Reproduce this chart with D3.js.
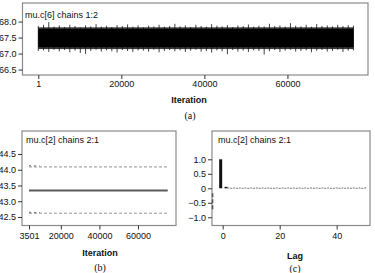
<!DOCTYPE html>
<html>
<head>
<meta charset="utf-8">
<script src="https://d3js.org/d3.v7.min.js"></script>
<style>
  body { margin: 0; background: #fff; }
  svg { display: block; }
  text { font-family: "Liberation Sans", Arial, sans-serif; fill: #111; }
  .tick text { font-size: 9px; }
  .tick line { stroke: #333; }
  .ttl { font-size: 9px; }
  .xl { font-size: 9px; font-weight: bold; }
  .cap { font-family: "Liberation Serif", "Times New Roman", serif; font-size: 10px; }
</style>
</head>
<body>
<svg width="375" height="273"></svg>
<script>
// ---- (a) trace of mu.c[6], both chains ----
var traceStep = 1265;          // iterations between envelope readings
var traceHi = [67.86, 67.90, 67.98, 67.84, 67.88, 67.83, 67.90, 67.86, 67.82, 67.88,
               67.85, 67.92, 67.84, 67.87, 67.83, 67.89, 67.86, 67.91, 67.84, 67.88,
               67.82, 67.87, 67.85, 67.90, 67.84, 67.86, 67.93, 67.85, 67.88, 67.83,
               67.90, 67.86, 67.84, 67.92, 67.87, 67.85, 67.89, 67.83, 67.88, 67.86,
               67.91, 67.84, 67.87, 67.85, 67.93, 67.86, 67.88, 67.84, 67.95, 67.87,
               67.85, 67.90, 67.84, 67.92, 67.86, 67.88, 67.85, 67.90, 67.86, 67.89, 67.87];
var traceLo = [67.08, 67.10, 67.05, 67.12, 67.07, 67.11, 67.04, 67.09, 67.02, 66.99,
               67.08, 67.12, 67.06, 67.10, 67.07, 67.03, 67.11, 67.08, 67.05, 67.10,
               67.09, 67.06, 67.12, 67.04, 67.08, 67.11, 67.07, 67.10, 67.05, 67.09,
               67.12, 67.06, 67.08, 67.03, 67.10, 67.07, 66.98, 67.11, 67.06, 67.09,
               67.05, 67.10, 67.08, 66.97, 67.07, 67.11, 67.05, 67.09, 67.12, 67.06,
               67.08, 67.10, 67.04, 67.09, 67.11, 67.06, 67.08, 67.12, 67.05, 67.09, 67.10];
var coreHi = 67.77, coreLo = 67.20;   // solid part of the band
var fuzzHi = 67.82, fuzzLo = 67.14;   // dense fringe around it
var aYTicks = [66.5, 67.0, 67.5, 68.0];
var aXTicks = [1, 20000, 40000, 60000];

// ---- (b) quantile history of mu.c[2] ----
var bIter = [3501, 75400];
var bMedian = [43.34, 43.34];
var bUpper = [44.09, 44.09];
var bLower = [42.62, 42.62];
var bUpper2 = [44.13, 44.12];   // second chain, only visible near the start
var bLower2 = [42.65, 42.64];
var bIter2 = [3501, 9000];
var bYTicks = [42.5, 43.0, 43.5, 44.0, 44.5];
var bXTicks = [3501, 20000, 40000, 60000];

// ---- (c) autocorrelation of mu.c[2] ----
var acfLag = d3.range(0, 51);
var acfVal = [1.0, 0.05, 0.01, 0.0, 0.01, -0.01, 0.01, 0.0, 0.01, 0.0,
              0.01, -0.01, 0.01, 0.0, 0.01, 0.0, 0.01, 0.0, -0.01, 0.01,
              0.0, 0.01, 0.0, 0.01, -0.01, 0.01, 0.0, 0.01, 0.0, 0.01,
              0.0, 0.01, -0.01, 0.01, 0.0, 0.01, 0.0, 0.01, 0.0, -0.01,
              0.01, 0.0, 0.01, 0.0, 0.01, -0.01, 0.01, 0.0, 0.01, 0.0, 0.01];
var cYTicks = [-1.0, -0.5, 0, 0.5, 1.0];
var cXTicks = [0, 20, 40];
var cLeftDash = [-0.17, -0.78];

var svg = d3.select("svg");

function frame(x0, x1, y0, y1) {
  svg.append("rect")
    .attr("x", x0).attr("y", y0)
    .attr("width", x1 - x0).attr("height", y1 - y0)
    .attr("fill", "none").attr("stroke", "#8a8a8a").attr("stroke-width", 1.2);
}

// ===== panel (a) =====
var xA = d3.scaleLinear().domain([-3800, 79400]).range([22.5, 368]);
var yA = d3.scaleLinear().domain([66.33, 68.58]).range([75, 3]);
var iterA = traceHi.map(function(d, i) { return 1 + i * traceStep; });
var aStart = xA(iterA[0]), aEnd = xA(iterA[iterA.length - 1]);

svg.append("rect")
  .attr("x", aStart).attr("width", aEnd - aStart)
  .attr("y", yA(fuzzHi)).attr("height", yA(fuzzLo) - yA(fuzzHi))
  .attr("fill", "#3a3a3a");

svg.append("g").selectAll("line")
  .data(iterA)
  .enter().append("line")
  .attr("x1", function(d) { return xA(d); })
  .attr("x2", function(d) { return xA(d); })
  .attr("y1", function(d, i) { return yA(traceLo[i]); })
  .attr("y2", function(d, i) { return yA(traceHi[i]); })
  .attr("stroke", "#111").attr("stroke-width", 0.8);

svg.append("rect")
  .attr("x", aStart).attr("width", aEnd - aStart)
  .attr("y", yA(coreHi)).attr("height", yA(coreLo) - yA(coreHi))
  .attr("fill", "#000");

frame(22.5, 368, 3, 75);

svg.append("g")
  .attr("transform", "translate(22.5,0)")
  .call(d3.axisLeft(yA).tickValues(aYTicks).tickFormat(d3.format(".1f")).tickSize(4).tickPadding(2))
  .call(function(g) { g.select(".domain").remove(); });

svg.append("g")
  .attr("transform", "translate(0,75)")
  .call(d3.axisBottom(xA).tickValues(aXTicks).tickFormat(d3.format("d")).tickSize(4).tickPadding(2))
  .call(function(g) { g.select(".domain").remove(); });

svg.append("text").attr("class", "ttl").attr("x", 25).attr("y", 18).text("mu.c[6] chains 1:2");
svg.append("text").attr("class", "xl").attr("x", 189).attr("y", 103).attr("text-anchor", "middle").text("Iteration");
svg.append("text").attr("class", "cap").attr("x", 190).attr("y", 119).attr("text-anchor", "middle").text("(a)");

// ===== panel (b) =====
var xB = d3.scaleLinear().domain([-128, 79700]).range([22, 176]);
var yB = d3.scaleLinear().domain([42.23, 45.23]).range([225.5, 131]);
var lineB = function(vals, iters) {
  return d3.line().x(function(d, i) { return xB(iters[i]); }).y(function(d) { return yB(d); })(vals);
};

svg.append("path").attr("d", lineB(bMedian, bIter))
  .attr("fill", "none").attr("stroke", "#5a5a5a").attr("stroke-width", 2);
[bUpper, bLower].forEach(function(v) {
  svg.append("path").attr("d", lineB(v, bIter))
    .attr("fill", "none").attr("stroke", "#777").attr("stroke-width", 0.8)
    .attr("stroke-dasharray", "3,2");
});
[bUpper2, bLower2].forEach(function(v) {
  svg.append("path").attr("d", lineB(v, bIter2))
    .attr("fill", "none").attr("stroke", "#555").attr("stroke-width", 0.8)
    .attr("stroke-dasharray", "2,3");
});

frame(22, 176, 131, 225.5);

svg.append("g")
  .attr("transform", "translate(22,0)")
  .call(d3.axisLeft(yB).tickValues(bYTicks).tickFormat(d3.format(".1f")).tickSize(4).tickPadding(2))
  .call(function(g) { g.select(".domain").remove(); });

svg.append("g")
  .attr("transform", "translate(0,225.5)")
  .call(d3.axisBottom(xB).tickValues(bXTicks).tickFormat(d3.format("d")).tickSize(4).tickPadding(3))
  .call(function(g) { g.select(".domain").remove(); });

svg.append("text").attr("class", "ttl").attr("x", 26).attr("y", 143).text("mu.c[2] chains 2:1");
svg.append("text").attr("class", "xl").attr("x", 100).attr("y", 256).attr("text-anchor", "middle").text("Iteration");
svg.append("text").attr("class", "cap").attr("x", 100).attr("y", 271).attr("text-anchor", "middle").text("(b)");

// ===== panel (c) =====
var xC = d3.scaleLinear().domain([-3.75, 51.7]).range([212, 370]);
var yC = d3.scaleLinear().domain([-1.283, 1.976]).range([225.5, 131]);

svg.append("g").selectAll("rect")
  .data(acfVal)
  .enter().append("rect")
  .attr("x", function(d, i) { return xC(acfLag[i]) - (i === 0 ? 3.5 : 1); })
  .attr("width", function(d, i) { return i < 2 ? 3 : 2; })
  .attr("y", function(d) { return Math.min(yC(d), yC(0)) - (Math.abs(d) < 0.02 ? 0.5 : 0); })
  .attr("height", function(d) { return Math.max(Math.abs(yC(d) - yC(0)), 1); })
  .attr("fill", function(d, i) { return i < 2 ? "#111" : "#777"; });

svg.append("line")
  .attr("x1", 212.5).attr("x2", 212.5)
  .attr("y1", yC(cLeftDash[0])).attr("y2", yC(cLeftDash[1]))
  .attr("stroke", "#111").attr("stroke-width", 1.5).attr("stroke-dasharray", "4,2");

frame(212, 370, 131, 225.5);

svg.append("g")
  .attr("transform", "translate(212,0)")
  .call(d3.axisLeft(yC).tickValues(cYTicks).tickFormat(function(d) { return d === 0 ? "0" : d3.format(".1f")(d); }).tickSize(4).tickPadding(2))
  .call(function(g) { g.select(".domain").remove(); });

svg.append("g")
  .attr("transform", "translate(0,225.5)")
  .call(d3.axisBottom(xC).tickValues(cXTicks).tickFormat(d3.format("d")).tickSize(4).tickPadding(3))
  .call(function(g) { g.select(".domain").remove(); });

svg.append("text").attr("class", "ttl").attr("x", 218).attr("y", 143).text("mu.c[2] chains 2:1");
svg.append("text").attr("class", "xl").attr("x", 295).attr("y", 259).attr("text-anchor", "middle").text("Lag");
svg.append("text").attr("class", "cap").attr("x", 295).attr("y", 272).attr("text-anchor", "middle").text("(c)");
</script>
</body>
</html>
